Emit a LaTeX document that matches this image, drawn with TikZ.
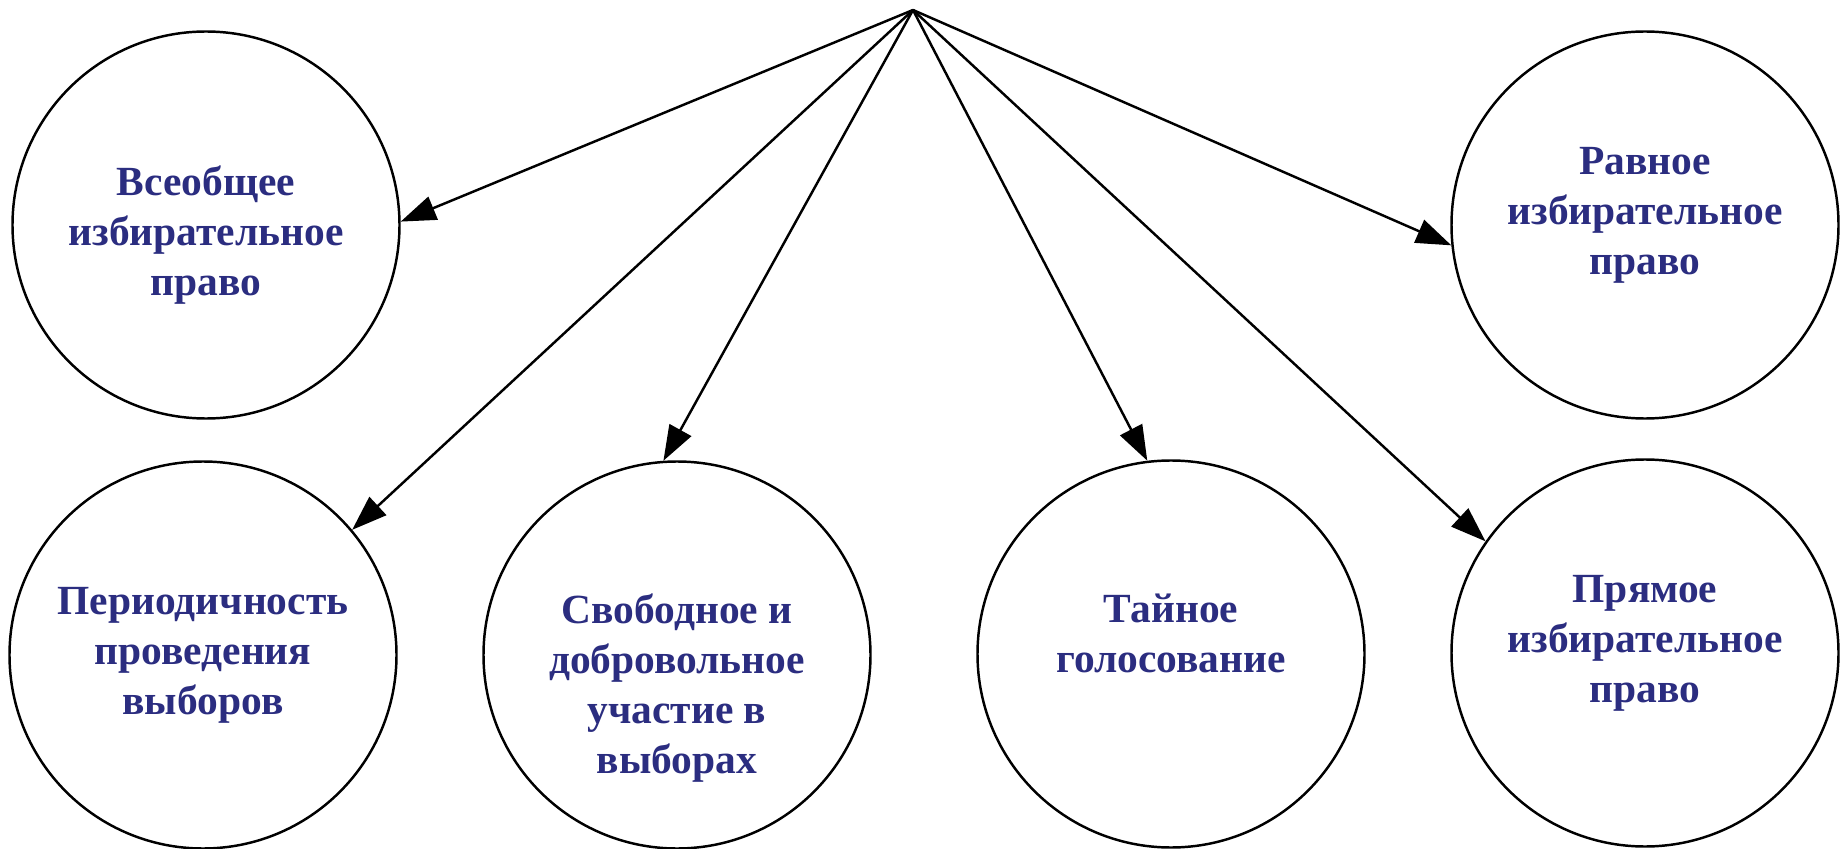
\documentclass[tikz,border=0pt]{standalone}
\usepackage{fontspec}
\setmainfont{Liberation Serif}
\usepackage{tikz}
\usetikzlibrary{shapes}
\usetikzlibrary{arrows.meta}
\definecolor{textblue}{RGB}{43,45,128}
\tikzstyle{principle}=[circle,draw=black,fill=white,inner sep=0mm,minimum size=38.7mm]
\tikzstyle{caption}=[align=center,text=textblue,font=\bfseries\fontsize{11.8}{14.2}\selectfont]
\tikzstyle{arrow}=[->,>={Triangle[length=10pt,width=7pt]}]
\tikzset{every picture/.style={
    line width=0.7pt
  }
}

\begin{document}
\begin{tikzpicture}
      \useasboundingbox (0,0) rectangle (18.41,8.48);
      \coordinate (source) at (9.13,8.38);
      \node[principle] at (2.06,6.23) (universal) {};
      \node[principle] at (16.45,6.23) (equal) {};
      \node[principle] at (2.03,1.93) (periodic) {};
      \node[principle] at (6.77,1.93) (free) {};
      \node[principle] at (11.71,1.94) (secret) {};
      \node[principle] at (16.45,1.95) (direct) {};
      \node[caption] at ([yshift=-1mm]universal.center) (universaltext) {Всеобщее\\избирательное\\право};
      \node[caption] at ([yshift=1mm]equal.center) (equaltext) {Равное\\избирательное\\право};
      \node[caption] at (periodic.center) (periodictext) {Периодичность\\проведения\\выборов};
      \node[caption] at ([yshift=-3.3mm]free.center) (freetext) {Свободное и\\добровольное\\участие в\\выборах};
      \node[caption] at ([yshift=2.1mm]secret.center) (secrettext) {Тайное\\голосование};
      \node[caption] at ([yshift=1mm]direct.center) (directtext) {Прямое\\избирательное\\право};
      \draw[arrow] (source)--(universal.1);
      \draw[arrow] (source)--(periodic.40);
      \draw[arrow] (source)--(free.94);
      \draw[arrow] (source)--(secret.97);
      \draw[arrow] (source)--(direct.145);
      \draw[arrow] (source)--(equal.186);
    \end{tikzpicture}
\end{document}
